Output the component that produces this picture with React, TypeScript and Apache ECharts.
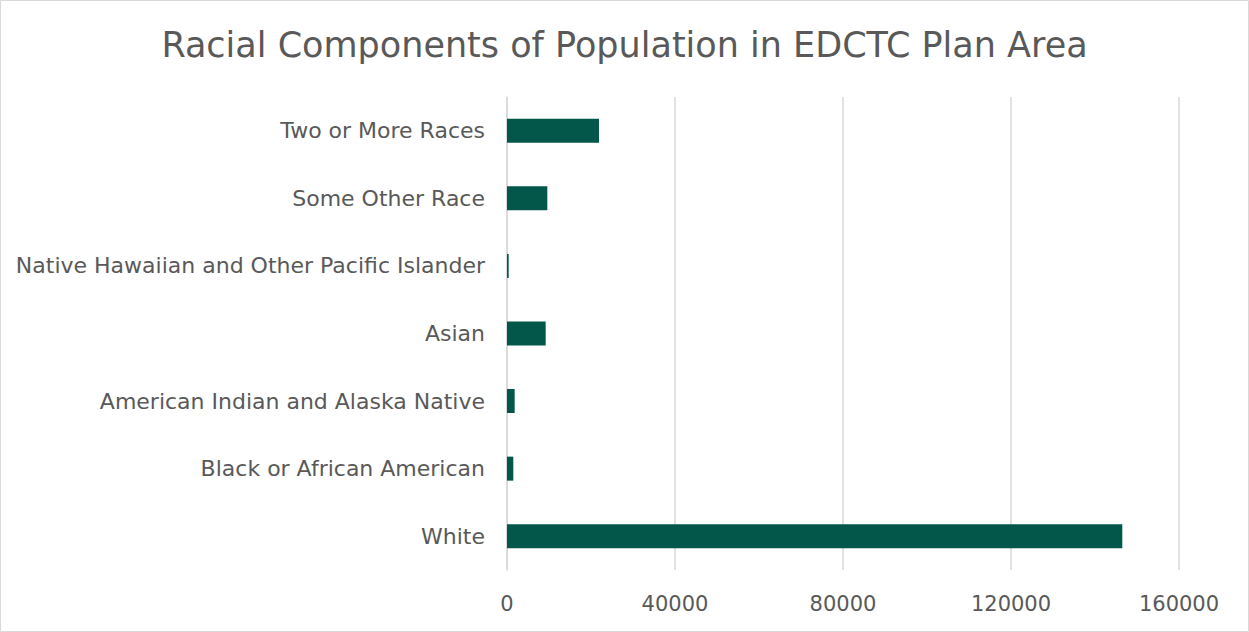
import React, { useEffect, useRef } from "react";
import * as echarts from "echarts";

const categories = [
  "White",
  "Black or African American",
  "American Indian and Alaska Native",
  "Asian",
  "Native Hawaiian and Other Pacific Islander",
  "Some Other Race",
  "Two or More Races",
];
const populationValues = [146500, 1500, 1830, 9210, 400, 9600, 21900];
const xTicks = { min: 0, max: 160000, interval: 40000 };
const titleText = "Racial Components of Population in EDCTC Plan Area";

export default function App() {
  const ref = useRef<HTMLDivElement>(null);
  useEffect(() => {
    document.body.style.margin = "0";
    const chart = echarts.init(ref.current!, null, { renderer: "svg" });
    const font = "'DejaVu Sans', 'Open Sans', sans-serif";
    chart.setOption({
      animation: false,
      backgroundColor: "#ffffff",
      title: {
        text: titleText,
        left: "center",
        top: 22,
        textStyle: { fontFamily: font, fontSize: 35, fontWeight: "normal", color: "#595959" },
      },
      grid: { left: 507, right: 70, top: 97, bottom: 62, containLabel: false },
      xAxis: {
        type: "value",
        min: xTicks.min,
        max: xTicks.max,
        interval: xTicks.interval,
        axisLine: { show: false },
        axisTick: { show: false },
        axisLabel: {
          fontFamily: font,
          fontSize: 21,
          color: "#595959",
          margin: 23,
          formatter: (v: number) => String(v),
        },
        splitLine: { lineStyle: { color: "#d9d9d9", width: 1.5 } },
      },
      yAxis: {
        type: "category",
        data: categories,
        axisLine: { lineStyle: { color: "#d9d9d9", width: 1.5 } },
        axisTick: { length: 6, lineStyle: { color: "#d9d9d9", width: 1.5 } },
        axisLabel: { fontFamily: font, fontSize: 22, color: "#595959", margin: 22 },
      },
      series: [
        {
          type: "bar",
          data: populationValues,
          barWidth: 24,
          itemStyle: { color: "#02574a" },
        },
      ],
      graphic: [
        {
          type: "rect",
          shape: { x: 0.5, y: 0.5, width: 1248, height: 631 },
          style: { fill: "none", stroke: "#d9d9d9", lineWidth: 1 },
          silent: true,
        },
      ],
    });
    return () => chart.dispose();
  }, []);
  return <div ref={ref} style={{ position: "absolute", left: 0, top: 0, width: 1249, height: 632 }} />;
}
